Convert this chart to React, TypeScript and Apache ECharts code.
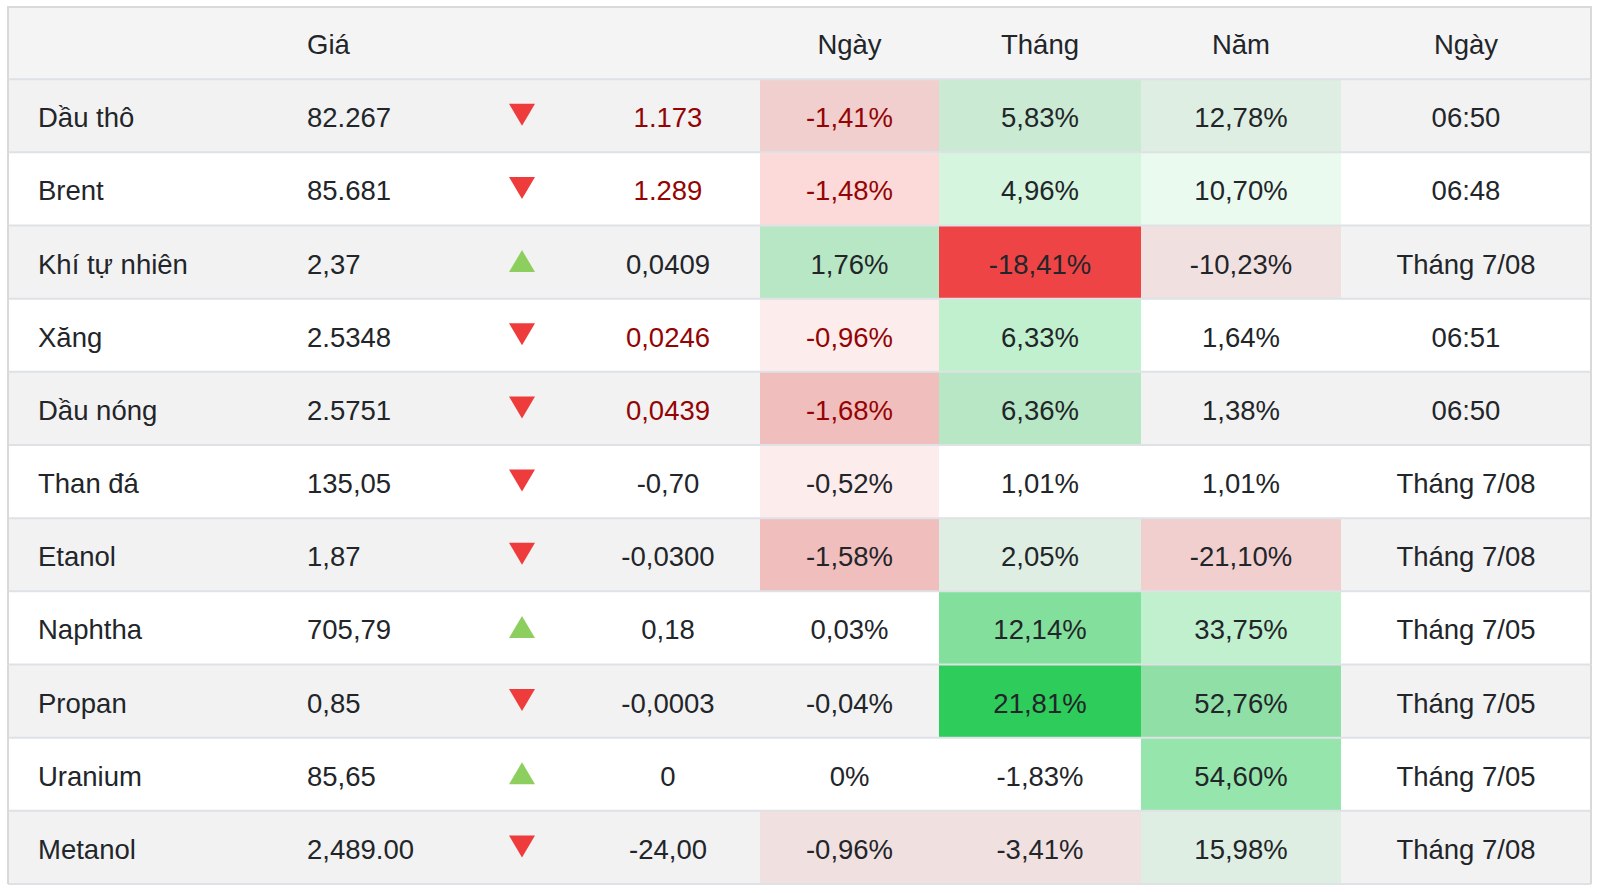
import React, { useEffect, useRef } from "react";
import * as echarts from "echarts";

// ---------- data ----------
const headers = ["", "Giá", "", "", "Ngày", "Tháng", "Năm", "Ngày"];
const names = ["Dầu thô", "Brent", "Khí tự nhiên", "Xăng", "Dầu nóng", "Than đá", "Etanol", "Naphtha", "Propan", "Uranium", "Metanol"];
const prices = ["82.267", "85.681", "2,37", "2.5348", "2.5751", "135,05", "1,87", "705,79", "0,85", "85,65", "2,489.00"];
const directions = ["down", "down", "up", "down", "down", "down", "down", "up", "down", "up", "down"];
const changes = ["1.173", "1.289", "0,0409", "0,0246", "0,0439", "-0,70", "-0,0300", "0,18", "-0,0003", "0", "-24,00"];
const dayPct = [-1.41, -1.48, 1.76, -0.96, -1.68, -0.52, -1.58, 0.03, -0.04, 0, -0.96];
const monthPct = [5.83, 4.96, -18.41, 6.33, 6.36, 1.01, 2.05, 12.14, 21.81, -1.83, -3.41];
const yearPct = [12.78, 10.7, -10.23, 1.64, 1.38, 1.01, -21.1, 33.75, 52.76, 54.6, 15.98];
const times = ["06:50", "06:48", "Tháng 7/08", "06:51", "06:50", "Tháng 7/08", "Tháng 7/08", "Tháng 7/05", "Tháng 7/05", "Tháng 7/05", "Tháng 7/08"];

// ---------- layout (x units = px inside the grid) ----------
const TABLE_W = 1583;
const NAME_X = 30;
const PRICE_X = 299;
const ARROW_X = 514;
const CHANGE_X = 660;
const HEAT_EDGES = [752, 931, 1133, 1333]; // day, month, year column edges
const TIME_END = TABLE_W;
const HEAT_STEPS = [0.5, 2, 10];

const FONT = "'Helvetica Neue', Helvetica, Arial, 'Liberation Sans', sans-serif";
const FS = 27.5;
const TXT = "#222529";
const RED_TXT = "#940404";
const GREEN = [46, 204, 90];
const RED = [239, 68, 70];

const fmtPct = (v: number) => (v === 0 ? "0%" : v.toFixed(2).replace(".", ",") + "%");
const heat = (v: number, step: number) => {
  const lvl = Math.floor(Math.abs(v) / step);
  if (lvl <= 0) return null;
  const a = lvl >= 9 ? 1 : lvl / 10;
  const c = v > 0 ? GREEN : RED;
  return `rgba(${c[0]},${c[1]},${c[2]},${a})`;
};
const isLive = (t: string) => /^\d\d:\d\d$/.test(t);

export default function App() {
  const ref = useRef<HTMLDivElement>(null);
  useEffect(() => {
    if (!ref.current) return;
    const chart = echarts.init(ref.current, undefined, { renderer: "svg" });
    const cats = ["header", ...names];
    const rowData = cats.map((_, i) => [0, i]);

    const geom = (api: any, r: number) => {
      const c = api.coord([0, r]);
      const h = api.size([0, 1])[1];
      const X = (u: number) => api.coord([u, r])[0];
      return { yc: c[1], h, top: c[1] - h / 2, bottom: c[1] + h / 2, X };
    };

    const bgSeries = {
      type: "custom",
      z: 1,
      data: rowData,
      encode: { x: 0, y: 1 },
      renderItem: (params: any, api: any) => {
        const r = api.value(1);
        const { top, h, X } = geom(api, r);
        const children: any[] = [];
        const bg = r === 0 ? "#f4f4f4" : r % 2 === 1 ? "#f2f2f2" : "#ffffff";
        children.push({ type: "rect", shape: { x: X(0), y: top, width: X(TABLE_W) - X(0), height: h }, style: { fill: bg } });
        if (r > 0) {
          const i = r - 1;
          const vals = [dayPct[i], monthPct[i], yearPct[i]];
          vals.forEach((v, c) => {
            const col = heat(v, HEAT_STEPS[c]);
            if (!col) return;
            const x0 = X(HEAT_EDGES[c]);
            const x1 = X(HEAT_EDGES[c + 1]);
            children.push({ type: "rect", shape: { x: x0, y: top, width: x1 - x0, height: h }, style: { fill: col } });
          });
        }
        return { type: "group", children };
      },
    };

    const fgSeries = {
      type: "custom",
      z: 3,
      data: rowData,
      encode: { x: 0, y: 1 },
      renderItem: (params: any, api: any) => {
        const r = api.value(1);
        const { yc, top, bottom, X } = geom(api, r);
        const children: any[] = [];
        const border = "#d9d9d9";
        const sep = "#dee2e6";
        if (r === 0) {
          children.push({ type: "line", shape: { x1: X(0), y1: top + 1, x2: X(TABLE_W), y2: top + 1 }, style: { stroke: border, lineWidth: 2 } });
        }
        children.push({ type: "line", shape: { x1: X(0), y1: bottom, x2: X(TABLE_W), y2: bottom }, style: { stroke: sep, lineWidth: 2 } });
        children.push({ type: "line", shape: { x1: X(0), y1: top, x2: X(0), y2: bottom }, style: { stroke: border, lineWidth: 2 } });
        children.push({ type: "line", shape: { x1: X(TABLE_W), y1: top, x2: X(TABLE_W), y2: bottom }, style: { stroke: border, lineWidth: 2 } });

        const ty = yc + 2;
        const txt = (s: string, x: number, align: string, color = TXT) =>
          children.push({
            type: "text",
            x,
            y: ty,
            style: { text: s, fill: color, font: `${FS}px ${FONT}`, align, verticalAlign: "middle" },
          });

        const centers = [
          (HEAT_EDGES[0] + HEAT_EDGES[1]) / 2,
          (HEAT_EDGES[1] + HEAT_EDGES[2]) / 2,
          (HEAT_EDGES[2] + HEAT_EDGES[3]) / 2,
          (HEAT_EDGES[3] + TIME_END) / 2,
        ];

        if (r === 0) {
          txt(headers[1], X(PRICE_X), "left");
          txt(headers[4], X(centers[0]), "center");
          txt(headers[5], X(centers[1]), "center");
          txt(headers[6], X(centers[2]), "center");
          txt(headers[7], X(centers[3]), "center");
        } else {
          const i = r - 1;
          const redRow = isLive(times[i]) && directions[i] === "down";
          txt(names[i], X(NAME_X), "left");
          txt(prices[i], X(PRICE_X), "left");
          const ax = X(ARROW_X);
          const w = 13;
          const hh = 11;
          const ac = yc - 1;
          if (directions[i] === "down") {
            children.push({ type: "polygon", shape: { points: [[ax - w, ac - hh], [ax + w, ac - hh], [ax, ac + hh]] }, style: { fill: "#ee3b3b" } });
          } else {
            children.push({ type: "polygon", shape: { points: [[ax - w, ac + hh], [ax + w, ac + hh], [ax, ac - hh]] }, style: { fill: "#8dcf5f" } });
          }
          txt(changes[i], X(CHANGE_X), "center", redRow ? RED_TXT : TXT);
          txt(fmtPct(dayPct[i]), X(centers[0]), "center", redRow ? RED_TXT : TXT);
          txt(fmtPct(monthPct[i]), X(centers[1]), "center");
          txt(fmtPct(yearPct[i]), X(centers[2]), "center");
          txt(times[i], X(centers[3]), "center");
        }
        return { type: "group", children };
      },
    };

    chart.setOption({
      animation: false,
      grid: { left: 8, right: 9, top: 6, bottom: 9 },
      xAxis: { type: "value", min: 0, max: TABLE_W, show: false },
      yAxis: { type: "category", data: cats, inverse: true, show: false },
      series: [bgSeries, fgSeries],
    });
    return () => chart.dispose();
  }, []);
  return <div ref={ref} style={{ position: "absolute", left: 0, top: 0, width: 1600, height: 893 }} />;
}
